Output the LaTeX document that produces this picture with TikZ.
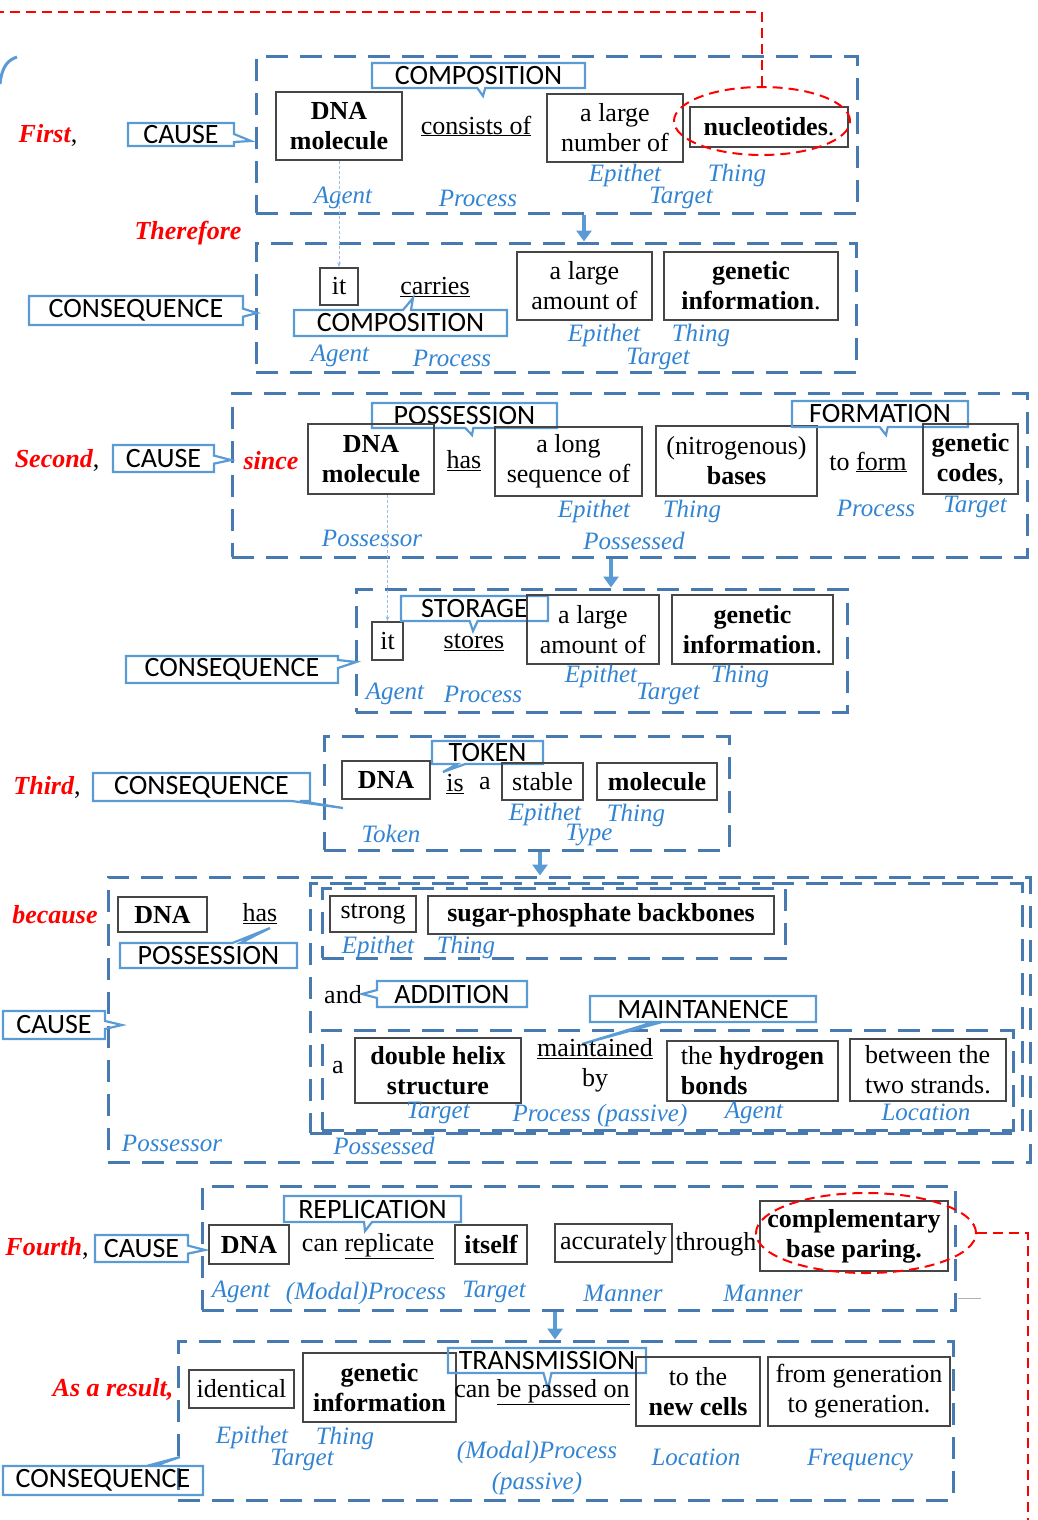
\documentclass[tikz,border=0pt]{standalone}
\usepackage{fontspec}
\setmainfont{Liberation Serif}
\newfontfamily\calfont{Carlito}
\usetikzlibrary{shapes.callouts,shapes.geometric,arrows.meta}
\definecolor{dashcol}{RGB}{72,122,178}
\definecolor{callblue}{RGB}{91,155,213}
\definecolor{labblue}{RGB}{50,132,210}
\definecolor{boxgray}{RGB}{70,70,70}
\definecolor{conncol}{RGB}{150,190,230}
\definecolor{redc}{RGB}{255,0,0}
\begin{document}
\begin{tikzpicture}[x=1pt,y=-1pt,
  txt/.style={font=\fontsize{26}{30}\selectfont, align=center, inner sep=0pt, text=black},
  wbox/.style={txt, draw=boxgray, line width=1.5pt},
  lab/.style={font=\fontsize{25}{28}\selectfont\itshape, text=labblue, inner sep=0pt},
  rlab/.style={font=\fontsize{26}{30}\selectfont\bfseries\itshape, text=redc, inner sep=0pt},
  call/.style={rectangle callout, draw=callblue, line width=2.2pt, font=\calfont\fontsize{28}{28}\selectfont, inner sep=0pt, callout pointer width=8pt, text=black},
  dbox/.style={draw=dashcol, line width=3pt, dash pattern=on 22pt off 12pt, inner sep=0pt},
  reddash/.style={draw=redc, line width=2pt, dash pattern=on 10pt off 6pt},
  conn/.style={draw=conncol, line width=0.8pt, dash pattern=on 3pt off 2pt, -{Stealth[length=5pt]}},
  arr/.style={draw=callblue, line width=3.5pt, -{Triangle[length=11pt,width=15pt]}}]
\useasboundingbox (0,0) rectangle (1038,1520);

% ---------- dashed boxes ----------
\node[dbox, minimum width=601, minimum height=156] (b1) at (556.5,135) {};
\node[dbox, minimum width=600, minimum height=129] (b2) at (556,307.5) {};
\node[dbox, minimum width=795, minimum height=164] (b3) at (629.5,475) {};
\node[dbox, minimum width=491, minimum height=123] (b4) at (601.5,650.5) {};
\node[dbox, minimum width=405, minimum height=114] (b5) at (526.5,793) {};
\node[dbox, minimum width=922, minimum height=285] (b6) at (569,1019.5) {};
\node[dbox, minimum width=712, minimum height=250] (b6p) at (666,1008) {};
\node[dbox, minimum width=463, minimum height=70] (b6a) at (553.5,923) {};
\node[dbox, minimum width=691, minimum height=100] (b6b) at (667.5,1080) {};
\node[dbox, minimum width=753, minimum height=124] (b7) at (578.5,1248) {};
\node[dbox, minimum width=775, minimum height=159] (b8) at (565.5,1420.5) {};

% top-left blue arc
\draw[callblue, line width=3pt] (0,84) .. controls (2,66) and (8,60) .. (17,57);

% ---------- Section 1 ----------
\node[rlab] (first) at (48,135) {First\textcolor{black}{\upshape\mdseries ,}};
\node[call, minimum width=106, minimum height=23, callout absolute pointer={(251,141)}] (cause1) at (181,134.5) {CAUSE};
\node[call, minimum width=213, minimum height=25, callout absolute pointer={(483,96)}] (comp1) at (478.5,75.5) {COMPOSITION};
\node[wbox, minimum width=126, minimum height=68] (dna1) at (339,126) {\bfseries DNA\\\bfseries molecule};
\node[txt] (consists) at (476,126) {\underline{consists of}};
\node[wbox, minimum width=136, minimum height=68] (large1) at (615,128) {a large\\number of};
\node[wbox, minimum width=158, minimum height=40] (nucl) at (769,127) {\textbf{nucleotides}.};
\node[lab] (l1e) at (625,175) {Epithet};
\node[lab] (l1t) at (737,175) {Thing};
\node[lab] (l1a) at (343,198) {Agent};
\node[lab] (l1p) at (478,198) {Process};
\node[lab] (l1g) at (681,198) {Target};
\node[reddash, ellipse, minimum width=176, minimum height=68, inner sep=0pt] (ell1) at (762,121) {};
\coordinate (redend1) at (0,12);
\draw[reddash] (ell1.north) |- (redend1);

% ---------- Section 2 ----------
\node[rlab] (therefore) at (188,233) {Therefore};
\node[call, minimum width=214, minimum height=29, callout absolute pointer={(257,313)}] (cons2) at (136,310.5) {CONSEQUENCE};
\node[wbox, minimum width=38, minimum height=37] (it2) at (339,286.5) {it};
\node[txt] (carries) at (435,287) {\underline{carries}};
\node[call, minimum width=213, minimum height=26, callout absolute pointer={(413,298)}] (comp2) at (400.5,323) {COMPOSITION};
\node[wbox, minimum width=135, minimum height=68] (large2) at (584.5,286) {a large\\amount of};
\node[wbox, minimum width=174, minimum height=68] (gen2) at (751,286) {\bfseries genetic\\\textbf{information}.};
\node[lab] (l2a) at (340,356) {Agent};
\node[lab] (l2p) at (452,358) {Process};
\node[lab] (l2e) at (604,335) {Epithet};
\node[lab] (l2t) at (701,335) {Thing};
\node[lab] (l2g) at (658,359) {Target};
\draw[conn] (dna1.south -| it2.north) -- (it2.north);
\coordinate (ax1) at (584,230);
\draw[arr] (b1.south -| ax1) -- (b2.north -| ax1);

% ---------- Section 3 ----------
\node[rlab] (second) at (57,460) {Second\textcolor{black}{\upshape\mdseries ,}};
\node[call, minimum width=101, minimum height=27, callout absolute pointer={(231,460)}] (cause3) at (163.5,458.5) {CAUSE};
\node[rlab] (since) at (271,461) {since};
\node[call, minimum width=185, minimum height=25, callout absolute pointer={(472,435)}] (poss3) at (464.5,415.5) {POSSESSION};
\node[wbox, minimum width=126, minimum height=70] (dna3) at (371,459) {\bfseries DNA\\\bfseries molecule};
\node[txt] (has3) at (464,461) {\underline{has}};
\node[wbox, minimum width=147, minimum height=69] (long3) at (568.5,461.5) {a long\\sequence of};
\node[wbox, minimum width=161, minimum height=70] (bases) at (736.5,461) {(nitrogenous)\\\textbf{bases}};
\node[txt] (toform) at (868,462) {to \underline{form}};
\node[call, minimum width=176, minimum height=26, callout absolute pointer={(886,435)}] (form3) at (880,414) {FORMATION};
\node[wbox, minimum width=95, minimum height=70] (codes) at (970.5,459) {\bfseries genetic\\\textbf{codes},};
\node[lab] (l3e) at (594,511) {Epithet};
\node[lab] (l3t) at (692,511) {Thing};
\node[lab] (l3p) at (876,508) {Process};
\node[lab] (l3g) at (975,507) {Target};
\node[lab] (l3r) at (372,538) {Possessor};
\node[lab] (l3d) at (634,541) {Possessed};
\coordinate (ax3) at (611,570);
\draw[arr] (b3.south -| ax3) -- (b4.north -| ax3);

% ---------- Section 4 ----------
\node[call, minimum width=212, minimum height=27, callout absolute pointer={(356,662)}] (cons4) at (232,669.5) {CONSEQUENCE};
\node[wbox, minimum width=31, minimum height=38] (it4) at (387.5,641) {it};
\node[call, minimum width=147, minimum height=25, callout absolute pointer={(473,631)}] (stor4) at (474.5,608.5) {STORAGE};
\node[txt] (stores) at (474,642) {\underline{stores}};
\node[wbox, minimum width=132, minimum height=69] (large4) at (593,629.5) {a large\\amount of};
\node[wbox, minimum width=161, minimum height=69] (gen4) at (752.5,629.5) {\bfseries genetic\\\textbf{information}.};
\node[lab] (l4a) at (395,694) {Agent};
\node[lab] (l4p) at (483,694) {Process};
\node[lab] (l4e) at (601,676) {Epithet};
\node[lab] (l4g) at (668,694) {Target};
\node[lab] (l4t) at (740,676) {Thing};
\draw[conn] (dna3.south -| it4.north) -- (it4.north);

% ---------- Section 5 ----------
\node[rlab] (third) at (47,787) {Third\textcolor{black}{\upshape\mdseries ,}};
\node[call, minimum width=217, minimum height=28, callout absolute pointer={(343,808)}] (cons5) at (201.5,787) {CONSEQUENCE};
\node[call, minimum width=111, minimum height=23, callout absolute pointer={(443,772)}] (token) at (487.5,752.5) {TOKEN};
\node[wbox, minimum width=88, minimum height=38] (dna5) at (386,780) {\bfseries DNA};
\node[txt] (is5) at (455,784) {\underline{is}};
\node[txt] (a5) at (485,784) {a};
\node[wbox, minimum width=81, minimum height=37] (stable) at (542.5,781.5) {stable};
\node[wbox, minimum width=120, minimum height=37] (mol5) at (657,781.5) {\bfseries molecule};
\node[lab] (l5k) at (391,834) {Token};
\node[lab] (l5e) at (545,814) {Epithet};
\node[lab] (l5t) at (636,815) {Thing};
\node[lab] (l5y) at (589,835) {Type};
\coordinate (ax5) at (540,860);
\draw[arr] (b5.south -| ax5) -- (b6.north -| ax5);

% ---------- Section 6 ----------
\node[rlab] (because) at (55,915) {because};
\node[call, minimum width=102, minimum height=28, callout absolute pointer={(122,1025)}] (cause6) at (54,1025) {CAUSE};
\node[wbox, minimum width=89, minimum height=35] (dna6) at (162.5,914.5) {\bfseries DNA};
\node[txt] (has6) at (260,914) {\underline{has}};
\node[call, minimum width=177, minimum height=25, callout absolute pointer={(270,928)}] (poss6) at (208.5,955.5) {POSSESSION};
\node[lab] (l6r) at (172,1143) {Possessor};
\node[wbox, minimum width=86, minimum height=36] (strong) at (373,914) {strong};
\node[wbox, minimum width=346, minimum height=38] (sugar) at (601,915) {\bfseries sugar-phosphate backbones};
\node[lab] (l6e) at (378,947) {Epithet};
\node[lab] (l6t) at (466,947) {Thing};
\node[txt] (and6) at (343,995) {and};
\node[call, minimum width=150, minimum height=26, callout absolute pointer={(362,994)}] (add6) at (452,994) {ADDITION};
\node[call, minimum width=226, minimum height=26, callout absolute pointer={(582,1044)}] (maint) at (703,1009) {MAINTANENCE};
\node[txt] (a6) at (338,1068) {a};
\node[wbox, minimum width=166, minimum height=65] (helix) at (438,1070.5) {\bfseries double helix\\\bfseries structure};
\node[txt] (maintby) at (595,1065) {\underline{maintained}\\by};
\node[wbox, minimum width=171, minimum height=60, align=left] (hyd) at (752.5,1071) {the \textbf{hydrogen}\\\textbf{bonds}};
\node[wbox, minimum width=156, minimum height=62, align=left] (betw) at (928,1070) {between the\\two strands.};
\node[lab] (l6g) at (438,1113) {Target};
\node[lab] (l6p) at (600,1115) {Process (passive)};
\node[lab] (l6a) at (754,1113) {Agent};
\node[lab] (l6l) at (926,1112) {Location};
\node[lab] (l6d) at (384,1146) {Possessed};

% ---------- Section 7 ----------
\node[rlab] (fourth) at (47,1248) {Fourth\textcolor{black}{\upshape\mdseries ,}};
\node[call, minimum width=93, minimum height=27, callout absolute pointer={(205,1250)}] (cause7) at (141.5,1248.5) {CAUSE};
\node[call, minimum width=177, minimum height=26, callout absolute pointer={(365,1231)}] (repl) at (372.5,1209) {REPLICATION};
\node[wbox, minimum width=80, minimum height=39] (dna7) at (249,1244.5) {\bfseries DNA};
\node[txt] (canrep) at (368,1246) {can \underline{replicate}};
\node[wbox, minimum width=72, minimum height=39] (itself) at (491,1244.5) {\bfseries itself};
\node[wbox, minimum width=117, minimum height=38] (accur) at (613.5,1243) {accurately};
\node[txt] (through) at (716,1244) {through};
\node[wbox, minimum width=188, minimum height=70] (compl) at (854,1236) {\bfseries complementary\\\bfseries base paring.};
\node[reddash, ellipse, minimum width=220, minimum height=80, inner sep=0pt] (ell2) at (866,1233) {};
\coordinate (redend2) at (1028,1520);
\draw[reddash] (ell2.east) -| (redend2);
\node[lab] (l7a) at (241,1292) {Agent};
\node[lab] (l7p) at (366,1293) {(Modal)Process};
\node[lab] (l7g) at (494,1292) {Target};
\node[lab] (l7m) at (623,1293) {Manner};
\node[lab] (l7n) at (763,1293) {Manner};
\draw[gray!60, line width=1pt] (958,1298) -- (981,1298);
\coordinate (ax7) at (555,1325);
\draw[arr] (b7.south -| ax7) -- (b8.north -| ax7);

% ---------- Section 8 ----------
\node[rlab] (result) at (113,1389) {As a result,};
\node[call, minimum width=200, minimum height=29, callout absolute pointer={(180,1457)}] (cons8) at (103,1480.5) {CONSEQUENCE};
\node[wbox, minimum width=105, minimum height=38] (ident) at (241.5,1389) {identical};
\node[wbox, minimum width=153, minimum height=69] (gen8) at (379.5,1387.5) {\bfseries genetic\\\bfseries information};
\node[call, minimum width=198, minimum height=25, callout absolute pointer={(548,1389)}] (trans) at (547,1360.5) {TRANSMISSION};
\node[txt] (canpass) at (542,1392) {can \underline{be passed on}};
\node[wbox, minimum width=124, minimum height=69] (newc) at (698,1391.5) {to the\\\textbf{new cells}};
\node[wbox, minimum width=182, minimum height=69] (fromg) at (859,1391.5) {from generation\\to generation.};
\node[lab] (l8e) at (252,1437) {Epithet};
\node[lab] (l8t) at (345,1438) {Thing};
\node[lab] (l8g) at (302,1460) {Target};
\node[lab] (l8p) at (537,1452) {(Modal)Process};
\node[lab] (l8q) at (537,1483) {(passive)};
\node[lab] (l8l) at (696,1457) {Location};
\node[lab] (l8f) at (860,1460) {Frequency};
\end{tikzpicture}
\end{document}
